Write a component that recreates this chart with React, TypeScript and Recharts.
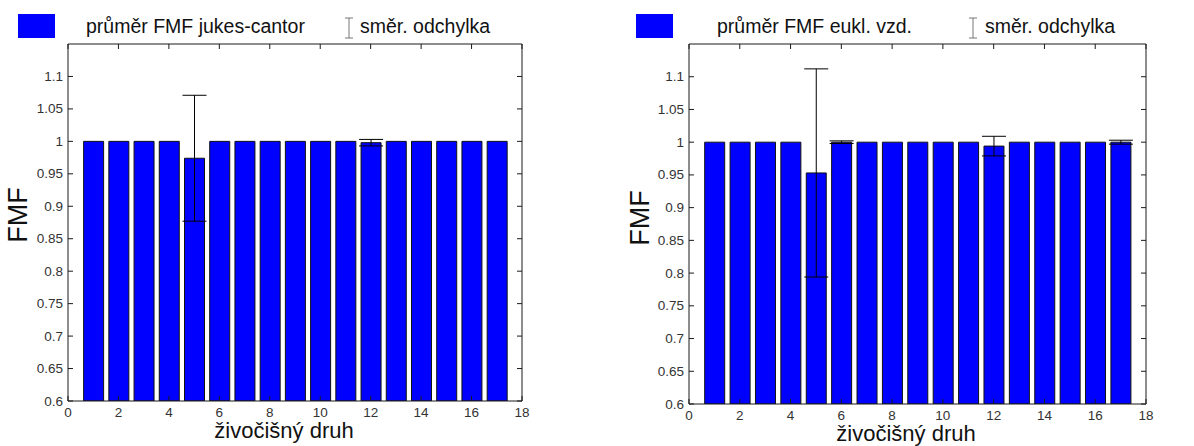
import React from "react";
import { BarChart, Bar, XAxis, YAxis, ErrorBar, Label, ReferenceLine } from "recharts";

// živočišné druhy 1..17
const species = [1, 2, 3, 4, 5, 6, 7, 8, 9, 10, 11, 12, 13, 14, 15, 16, 17];

const jukesMean = [1, 1, 1, 1, 0.974, 1, 1, 1, 1, 1, 1, 0.998, 1, 1, 1, 1, 1];
const jukesStd = [0, 0, 0, 0, 0.097, 0, 0, 0, 0, 0, 0, 0.005, 0, 0, 0, 0, 0];

const euklMean = [1, 1, 1, 1, 0.953, 1, 1, 1, 1, 1, 1, 0.994, 1, 1, 1, 1, 1];
const euklStd = [0, 0, 0, 0, 0.159, 0.002, 0, 0, 0, 0, 0, 0.015, 0, 0, 0, 0, 0.003];

const xTicks = [0, 2, 4, 6, 8, 10, 12, 14, 16, 18];
const yTicks = [0.6, 0.65, 0.7, 0.75, 0.8, 0.85, 0.9, 0.95, 1, 1.05, 1.1];
const Y_MAX = 1.15;

const FONT = "'Liberation Sans', Arial, Helvetica, sans-serif";
const AXIS = "#1a1a1a";
const TICK_LEN = 5;

const fmt = (v: number) => String(Number(v.toFixed(2)));

// bottom tick: label + inward tick, plus the matching inward tick on the top edge
const makeBottomTick = (topY: number) => (props: any) => {
  const { x, y, payload } = props;
  return (
    <g>
      <line x1={x} x2={x} y1={y} y2={y - TICK_LEN} stroke={AXIS} />
      <line x1={x} x2={x} y1={topY} y2={topY + TICK_LEN} stroke={AXIS} />
      <text x={x} y={y + 6} textAnchor="middle" dominantBaseline="hanging" fontSize={13.5} fill="#333" fontFamily={FONT}>
        {payload.value}
      </text>
    </g>
  );
};

const LeftTick = (props: any) => {
  const { x, y, payload } = props;
  return (
    <g>
      <line x1={x} x2={x + TICK_LEN} y1={y} y2={y} stroke={AXIS} />
      <text x={x - 5} y={y} textAnchor="end" dominantBaseline="central" fontSize={13.5} fill="#333" fontFamily={FONT}>
        {fmt(payload.value)}
      </text>
    </g>
  );
};

const RightTick = (props: any) => {
  const { x, y } = props;
  return <line x1={x} x2={x - TICK_LEN} y1={y} y2={y} stroke={AXIS} />;
};

type PanelProps = {
  left: number;
  width: number;
  margin: { top: number; right: number; bottom: number; left: number };
  means: number[];
  stds: number[];
  seriesName: string;
  legendRect: number;
  legendText: number;
  errIcon: number;
  errText: number;
  yLabelX: number;
  yLabelY: number;
  xLabelX: number;
  xLabelY: number;
};

const Panel = (p: PanelProps) => {
  const data = species.map((x, i) => ({ x, mean: p.means[i], std: p.stds[i] }));
  const legendFont = { fontSize: 19.5, fontFamily: FONT, color: "#111", whiteSpace: "nowrap" as const };
  const BottomTick = makeBottomTick(p.margin.top);

  return (
    <div style={{ position: "absolute", left: p.left, top: 0, width: p.width, height: 446 }}>
      {/* legenda */}
      <div style={{ position: "absolute", left: p.legendRect, top: 14, width: 37, height: 24, background: "#0000ff" }} />
      <div style={{ position: "absolute", left: p.legendText, top: 15, ...legendFont }}>{p.seriesName}</div>
      <svg style={{ position: "absolute", left: p.errIcon, top: 17 }} width={10} height={22}>
        <line x1={5} y1={1} x2={5} y2={21} stroke="#777" strokeWidth={1} />
        <line x1={1} y1={1} x2={9} y2={1} stroke="#777" strokeWidth={1} />
        <line x1={1} y1={21} x2={9} y2={21} stroke="#777" strokeWidth={1} />
      </svg>
      <div style={{ position: "absolute", left: p.errText, top: 15, ...legendFont }}>směr. odchylka</div>

      <div style={{ position: "absolute", left: 0, top: 0 }}>
        <BarChart width={p.width} height={446} data={data} margin={p.margin} barSize={20}>
          <XAxis
            dataKey="x"
            type="number"
            domain={[0, 18]}
            ticks={xTicks}
            allowDataOverflow
            height={25}
            tickLine={false}
            tickSize={0}
            tickMargin={0}
            stroke={AXIS}
            tick={BottomTick}
            interval={0}
          >
            <Label
              content={() => (
                <text x={p.xLabelX} y={p.xLabelY} textAnchor="middle" fontSize={22} fontFamily={FONT} fill="#111">
                  živočišný druh
                </text>
              )}
            />
          </XAxis>
          <YAxis
            type="number"
            domain={[0.6, Y_MAX]}
            ticks={yTicks}
            allowDataOverflow
            width={60}
            tickLine={false}
            tickSize={0}
            tickMargin={0}
            stroke={AXIS}
            tick={LeftTick}
            interval={0}
          >
            <Label
              content={() => (
                <text
                  x={p.yLabelX}
                  y={p.yLabelY}
                  transform={`rotate(-90 ${p.yLabelX} ${p.yLabelY})`}
                  textAnchor="middle"
                  dominantBaseline="central"
                  fontSize={27}
                  fontFamily={FONT}
                  fill="#111"
                >
                  FMF
                </text>
              )}
            />
          </YAxis>
          <YAxis
            yAxisId="right"
            orientation="right"
            type="number"
            domain={[0.6, Y_MAX]}
            ticks={yTicks}
            allowDataOverflow
            width={1}
            tickLine={false}
            tickSize={0}
            tickMargin={0}
            tick={RightTick}
            stroke={AXIS}
            interval={0}
          />
          {/* horní hrana rámečku */}
          <ReferenceLine y={Y_MAX} stroke={AXIS} ifOverflow="visible" />
          <Bar dataKey="mean" fill="#0000ff" stroke="#111" strokeWidth={1} isAnimationActive={false}>
            <ErrorBar dataKey="std" width={12} stroke="#000" strokeWidth={1} direction="y" isAnimationActive={false} />
          </Bar>
        </BarChart>
      </div>
    </div>
  );
};

export default function App() {
  return (
    <div style={{ position: "absolute", left: 0, top: 0, width: 1194, height: 446, background: "#fff" }}>
      <Panel
        left={0}
        width={600}
        margin={{ top: 44, right: 77, bottom: 20, left: 8 }}
        means={jukesMean}
        stds={jukesStd}
        seriesName="průměr FMF jukes-cantor"
        legendRect={18}
        legendText={86}
        errIcon={344}
        errText={360}
        yLabelX={18}
        yLabelY={215}
        xLabelX={284}
        xLabelY={438}
      />
      <Panel
        left={600}
        width={594}
        margin={{ top: 44, right: 47, bottom: 17, left: 29 }}
        means={euklMean}
        stds={euklStd}
        seriesName="průměr FMF eukl. vzd."
        legendRect={36}
        legendText={117}
        errIcon={368}
        errText={385}
        yLabelX={40}
        yLabelY={218}
        xLabelX={306}
        xLabelY={441}
      />
    </div>
  );
}
